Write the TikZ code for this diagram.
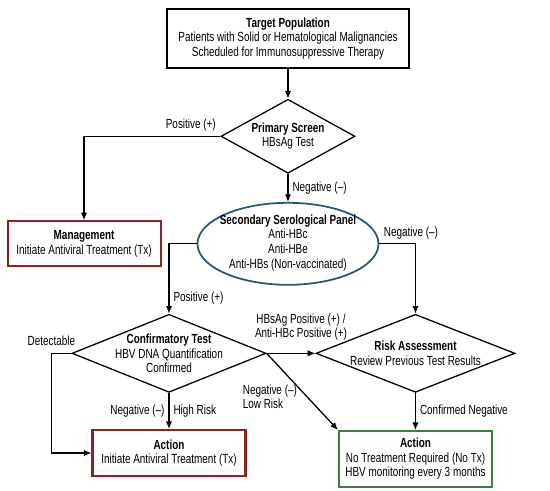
\documentclass[tikz,border=0pt]{standalone}
\usepackage{fontspec}
\setmainfont{Liberation Sans}[FakeStretch=0.75]
\usetikzlibrary{arrows.meta,positioning,shapes.geometric}

\definecolor{txred}{HTML}{8B2323}
\definecolor{txgreen}{HTML}{3D7F45}
\definecolor{panelblue}{HTML}{2B5773}

\begin{document}
\begin{tikzpicture}[
  font=\fontsize{11.3}{12.4}\selectfont,
  >={Latex[length=6.5pt,width=5.5pt]},
  box/.style={draw, line width=1.1pt, align=center, inner sep=3pt},
  actbox/.style={draw, line width=1.8pt, align=center, inner sep=3pt, minimum width=4.59cm},
  dia/.style={draw, line width=1.1pt, diamond, inner sep=0pt},
  inner/.style={align=center, inner sep=0pt},
  arr/.style={->, line width=1.1pt},
  note/.style={align=center, inner sep=2pt}
]

\node[box, minimum width=7.26cm, minimum height=1.77cm] (target) {
{\bfseries Target Population}\\
Patients with Solid or Hematological Malignancies\\
Scheduled for Immunosuppressive Therapy
};

\node[dia, below=0.9cm of target, minimum width=4.02cm, minimum height=2.22cm,
  label={[inner]center:{{\bfseries Primary Screen}\\HBsAg Test}}] (screen) {};

\node[ellipse, draw=panelblue, line width=1.5pt, below=0.84cm of screen,
  minimum width=5.43cm, minimum height=2.46cm, inner sep=0pt,
  label={[inner, yshift=0.03cm]center:{{\bfseries Secondary Serological Panel}\\Anti-HBc\\Anti-HBe\\Anti-HBs (Non-vaccinated)}}] (panel) {};

\node[actbox, draw=txred, left=1.05cm of panel, minimum height=1.35cm] (mgmt) {
{\bfseries Management}\\
Initiate Antiviral Treatment (Tx)
};

\node[dia, below=0.84cm of panel, xshift=-3.57cm, minimum width=5.82cm, minimum height=2.34cm,
  label={[inner]center:{{\bfseries Confirmatory Test}\\HBV DNA Quantification\\Confirmed}}] (confirm) {};

\node[dia, below=0.84cm of panel, xshift=3.825cm, minimum width=5.97cm, minimum height=2.34cm,
  label={[inner]center:{{\bfseries Risk Assessment}\\Review Previous Test Results}}] (risk) {};

\node[actbox, draw=txred, below=1.08cm of confirm, minimum height=1.38cm] (treat) {
{\bfseries Action}\\
Initiate Antiviral Treatment (Tx)
};

\node[actbox, draw=txgreen, below=1.11cm of risk, minimum height=1.68cm] (monitor) {
{\bfseries Action}\\
No Treatment Required (No Tx)\\
HBV monitoring every 3 months
};

% connectors
\draw[arr] (target) -- (screen);
\draw[arr] (screen.west) -| node[pos=0, above left] {Positive (+)} (mgmt.north);
\draw[arr] (screen.south) -- node[right] {Negative (--)} (panel.north);
\draw[arr] (panel.west) -| node[pos=0.89, right] {Positive (+)} (confirm.north);
\draw[arr] (panel.east) -| node[pos=0, above right] {Negative (--)} (risk.north);
\draw[arr] (confirm.east) -- node[above, xshift=0.3cm, yshift=0.3cm, note] {HBsAg Positive (+) /\\Anti-HBc Positive (+)} (risk.west);
\draw[arr] (confirm.west) -- node[pos=1, above, yshift=0.1cm] {Detectable} ++(-0.6cm,0) |- (treat.west);
\draw[arr] (confirm.south) -- node[left] {Negative (--)} node[right] {High Risk} (treat.north);
\draw[arr] (confirm.east) -- node[pos=0.45, below left, align=left, inner sep=1pt, yshift=0.15cm] {Negative (--)\\Low Risk} (monitor.north west);
\draw[arr] (risk.south) -- node[right] {Confirmed Negative} (monitor.north);

\useasboundingbox ([shift={(-8.64cm,-13.575cm)}]target.center) rectangle ([shift={(7.86cm,1.155cm)}]target.center);

\end{tikzpicture}
\end{document}
